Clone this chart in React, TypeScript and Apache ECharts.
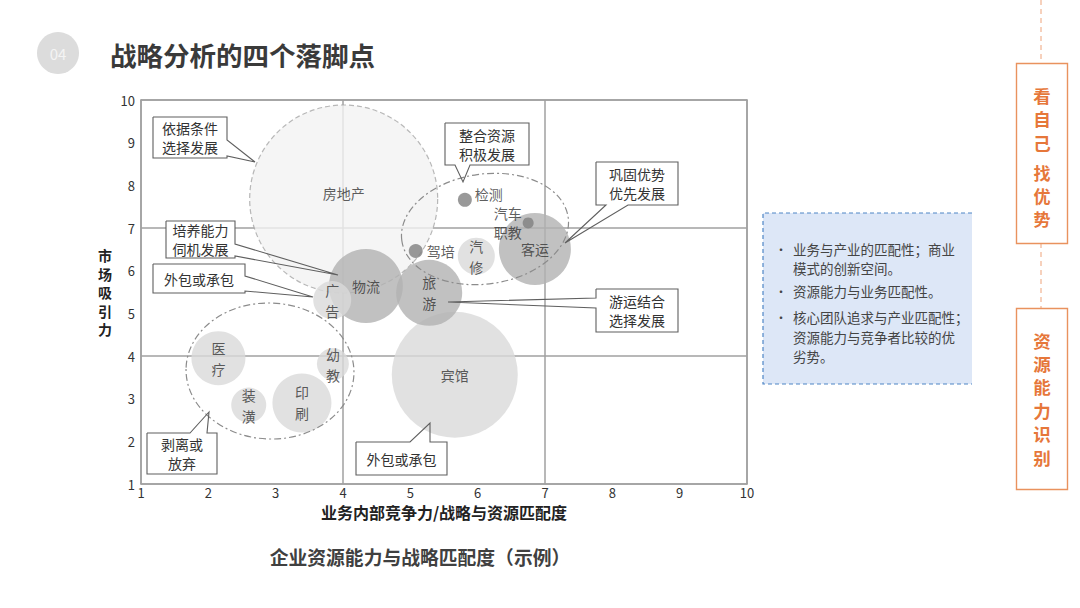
import React, { useEffect, useRef } from 'react';
import * as echarts from 'echarts';

const TITLE = '战略分析的四个落脚点';
const SUBTITLE = '企业资源能力与战略匹配度（示例）';
const X_NAME = '业务内部竞争力/战略与资源匹配度';
const Y_NAME = '市场吸引力';

const bubbleNames = ['房地产', '宾馆', '物流', '旅游', '广告', '客运', '汽修', '医疗', '装潢', '印刷', '幼教', '检测', '驾培', '汽车职教'];
const bubbleLabels = ['房地产', '宾馆', '物流', '旅\n游', '广\n告', '客运', '汽\n修', '医\n疗', '装\n潢', '印\n刷', '幼\n教', '检测', '驾培', '汽车\n职教'];
const competitiveness = [4.01, 5.66, 4.34, 5.28, 3.84, 6.85, 5.98, 2.15, 2.6, 3.39, 3.85, 5.81, 5.08, 6.75];
const attractiveness = [7.68, 3.56, 5.64, 5.48, 5.31, 6.51, 6.34, 3.95, 2.85, 2.9, 3.81, 7.66, 6.46, 7.12];
const bubbleScale = [94, 63, 37, 33, 19, 36, 18.5, 27, 17.5, 29.5, 16, 7, 7, 5.5];
const bubbleTier = ['outer', 'light', 'dark', 'dark', 'light', 'dark', 'light', 'light', 'light', 'light', 'light', 'dot', 'dot', 'dot'];

const calloutTexts = ['依据条件\n选择发展', '培养能力\n伺机发展', '外包或承包', '整合资源\n积极发展', '巩固优势\n优先发展', '游运结合\n选择发展', '外包或承包', '剥离或\n放弃'];
const infoLines = ['业务与产业的匹配性；商业', '模式的创新空间。', '资源能力与业务匹配性。', '核心团队追求与产业匹配性；', '资源能力与竞争者比较的优', '劣势。'];
const sideTitleA1 = '看\n自\n己';
const sideTitleA2 = '找\n优\n势';
const sideTitleB = '资\n源\n能\n力\n识\n别';

const FONT = '"Noto Sans CJK SC", "Noto Sans", sans-serif';

const tierStyle: Record<string, any> = {
  outer: { color: '#f2f2f2', borderColor: '#a6a6a6', borderType: [5, 3], borderWidth: 1.2 },
  dark: { color: '#b1b1b1' },
  light: { color: '#d9d9d9' },
  dot: { color: '#7f7f7f' },
};

const calloutGeom = [
  { r: [153, 117, 227, 158], side: 'right', a: 140, b: 156, tip: [255, 162] },
  { r: [166, 221, 235, 258], side: 'right', a: 244, b: 256, tip: [338, 275] },
  { r: [153, 264, 245, 293], side: 'right', a: 276, b: 291, tip: [313, 297] },
  { r: [445, 123, 529, 165], side: 'bottom', a: 455, b: 470, tip: [463, 182] },
  { r: [596, 162, 678, 205], side: 'bottom', a: 606, b: 628, tip: [565, 243] },
  { r: [596, 289, 678, 332], side: 'left', a: 298, b: 308, tip: [448, 302] },
  { r: [356, 442, 447, 475], side: 'top', a: 410, b: 430, tip: [430, 423] },
  { r: [147, 433, 217, 474], side: 'top', a: 190, b: 207, tip: [209, 412] },
];

function calloutPoints(g: any) {
  const [x1, y1, x2, y2] = g.r;
  const { a, b, tip } = g;
  if (g.side === 'right') return [[x1, y1], [x2, y1], [x2, a], tip, [x2, b], [x2, y2], [x1, y2], [x1, y1]];
  if (g.side === 'left') return [[x1, y1], [x2, y1], [x2, y2], [x1, y2], [x1, b], tip, [x1, a], [x1, y1]];
  if (g.side === 'bottom') return [[x1, y1], [x2, y1], [x2, y2], [b, y2], tip, [a, y2], [x1, y2], [x1, y1]];
  return [[x1, y1], [a, y1], tip, [b, y1], [x2, y1], [x2, y2], [x1, y2], [x1, y1]];
}

function buildGraphic() {
  const els: any[] = [];
  // header
  els.push({ type: 'circle', shape: { cx: 58, cy: 53, r: 21 }, style: { fill: '#dcdcdc' }, z: 10 });
  els.push({ type: 'text', x: 58, y: 53, style: { text: '04', fill: '#f4f4f4', font: `15px ${FONT}`, align: 'center', verticalAlign: 'middle' }, z: 11 });
  els.push({ type: 'text', x: 110, y: 54, style: { text: TITLE, fill: '#3a3a3a', font: `bold 26.5px ${FONT}`, align: 'left', verticalAlign: 'middle' }, z: 11 });
  els.push({ type: 'text', x: 420, y: 556, style: { text: SUBTITLE, fill: '#404040', font: `bold 18.8px ${FONT}`, align: 'center', verticalAlign: 'middle' }, z: 11 });

  // group ellipses
  els.push({ type: 'ellipse', x: 270, y: 371, rotation: -0.04, shape: { cx: 0, cy: 0, rx: 84, ry: 68 }, style: { fill: 'none', stroke: '#8c8c8c', lineWidth: 1.2, lineDash: [7, 3, 2, 3] }, z: 50 });
  els.push({ type: 'ellipse', x: 485, y: 229, rotation: 0.14, shape: { cx: 0, cy: 0, rx: 84, ry: 55 }, style: { fill: 'none', stroke: '#8c8c8c', lineWidth: 1.2, lineDash: [7, 3, 2, 3] }, z: 50 });

  // callouts
  calloutGeom.forEach((g, i) => {
    const [x1, y1, x2, y2] = g.r;
    els.push({ type: 'rect', shape: { x: x1, y: y1, width: x2 - x1, height: y2 - y1 }, style: { fill: '#ffffff' }, z: 60 });
    els.push({ type: 'polyline', shape: { points: calloutPoints(g) }, style: { fill: 'none', stroke: '#5f5f5f', lineWidth: 1.1 }, z: 61 });
    els.push({ type: 'text', x: (x1 + x2) / 2, y: (y1 + y2) / 2, style: { text: calloutTexts[i], fill: '#333333', font: `14px ${FONT}`, lineHeight: 19, align: 'center', verticalAlign: 'middle' }, z: 62 });
  });

  // info box
  els.push({ type: 'rect', shape: { x: 763, y: 213, width: 209, height: 171 }, style: { fill: '#dde7f7' }, z: 10 });
  els.push({ type: 'polyline', shape: { points: [[972, 213], [763, 213], [763, 384], [972, 384]] }, style: { fill: 'none', stroke: '#4f86c6', lineWidth: 1.2, lineDash: [4, 3] }, z: 11 });
  const infoY = [249, 268, 291, 317, 337, 356];
  const bulletRows = [0, 2, 3];
  infoLines.forEach((t, i) => {
    els.push({ type: 'text', x: 793, y: infoY[i], style: { text: t, fill: '#444444', font: `13.5px ${FONT}`, lineHeight: 18, align: 'left', verticalAlign: 'middle' }, z: 12 });
  });
  bulletRows.forEach((r) => {
    els.push({ type: 'text', x: 781, y: infoY[r], style: { text: '•', fill: '#444444', font: `12px ${FONT}`, lineHeight: 14, align: 'center', verticalAlign: 'middle' }, z: 12 });
  });

  // right orange side
  const orange = '#e6773a';
  els.push({ type: 'line', shape: { x1: 1041, y1: 0, x2: 1041, y2: 63 }, style: { stroke: '#eea37a', lineWidth: 1, lineDash: [5, 4] }, z: 10 });
  els.push({ type: 'line', shape: { x1: 1041, y1: 243, x2: 1041, y2: 308 }, style: { stroke: '#eea37a', lineWidth: 1, lineDash: [5, 4] }, z: 10 });
  els.push({ type: 'rect', shape: { x: 1016.5, y: 63.5, width: 51, height: 180 }, style: { fill: '#ffffff', stroke: '#e9925e', lineWidth: 1.4 }, z: 11 });
  els.push({ type: 'rect', shape: { x: 1016.5, y: 308.5, width: 51, height: 181 }, style: { fill: '#ffffff', stroke: '#e9925e', lineWidth: 1.4 }, z: 11 });
  els.push({ type: 'text', x: 1042, y: 118.5, style: { text: sideTitleA1, fill: orange, font: `bold 17.5px ${FONT}`, lineHeight: 23.5, align: 'center', verticalAlign: 'middle' }, z: 12 });
  els.push({ type: 'text', x: 1042, y: 195.5, style: { text: sideTitleA2, fill: orange, font: `bold 17px ${FONT}`, lineHeight: 23, align: 'center', verticalAlign: 'middle' }, z: 12 });
  els.push({ type: 'text', x: 1042, y: 398.5, style: { text: sideTitleB, fill: orange, font: `bold 17.5px ${FONT}`, lineHeight: 23.4, align: 'center', verticalAlign: 'middle' }, z: 12 });
  return els;
}

function buildBubbles() {
  return bubbleNames.map((name, i) => {
    const tier = bubbleTier[i];
    let label: any = { show: true, formatter: bubbleLabels[i], position: 'inside', color: '#333333', fontSize: 14, lineHeight: 21, fontFamily: FONT };
    if (name === '房地产') label = { ...label, offset: [0, -6] };
    if (name === '检测') label = { ...label, position: 'right', distance: 3, offset: [0, -6] };
    if (name === '驾培') label = { ...label, position: 'right', distance: 4 };
    if (name === '汽车职教') label = { ...label, position: 'left', distance: 1, lineHeight: 19 };
    return {
      name,
      value: [competitiveness[i], attractiveness[i]],
      symbolSize: bubbleScale[i] * 2,
      itemStyle: tierStyle[tier],
      label,
    };
  });
}

export default function App() {
  const ref = useRef<HTMLDivElement>(null);
  useEffect(() => {
    const chart = echarts.init(ref.current!, null, { renderer: 'svg' });
    const axisLineStyle = { color: '#a0a0a0', width: 1.5 };
    chart.setOption({
      animation: false,
      backgroundColor: '#ffffff',
      textStyle: { fontFamily: FONT },
      grid: { left: 141, top: 100, right: 333, bottom: 124, containLabel: false },
      xAxis: [
        {
          type: 'value', min: 1, max: 10, interval: 1, position: 'bottom',
          name: X_NAME, nameLocation: 'middle', nameGap: 19,
          nameTextStyle: { fontSize: 16, fontWeight: 'bold', color: '#222222', fontFamily: FONT },
          axisLine: { show: true, lineStyle: axisLineStyle }, axisTick: { show: false },
          axisLabel: { color: '#333333', fontSize: 13, margin: 2, fontFamily: FONT },
          splitLine: { show: false },
        },
        {
          type: 'value', min: 1, max: 10, interval: 3, position: 'top',
          axisLine: { show: true, lineStyle: axisLineStyle }, axisTick: { show: false },
          axisLabel: { show: false },
          splitLine: { show: true, lineStyle: axisLineStyle },
        },
      ],
      yAxis: [
        {
          type: 'value', min: 1, max: 10, interval: 1, position: 'left',
          name: Y_NAME.split('').join('\n'), nameLocation: 'middle', nameGap: 36, nameRotate: 0,
          nameTextStyle: { fontSize: 14, fontWeight: 'bold', color: '#222222', lineHeight: 18.5, align: 'center', verticalAlign: 'middle', padding: [0, 0, 42, 0], fontFamily: FONT },
          axisLine: { show: true, lineStyle: axisLineStyle }, axisTick: { show: false },
          axisLabel: { color: '#333333', fontSize: 13, margin: 6, fontFamily: FONT },
          splitLine: { show: false },
        },
        {
          type: 'value', min: 1, max: 10, interval: 3, position: 'right',
          axisLine: { show: true, lineStyle: axisLineStyle }, axisTick: { show: false },
          axisLabel: { show: false },
          splitLine: { show: true, lineStyle: axisLineStyle },
        },
      ],
      series: [
        {
          type: 'scatter',
          xAxisIndex: 0,
          yAxisIndex: 0,
          z: 3,
          data: buildBubbles(),
        },
      ],
      graphic: buildGraphic(),
    });
    return () => chart.dispose();
  }, []);
  return <div ref={ref} style={{ position: 'absolute', left: 0, top: 0, width: 1080, height: 608, background: '#fff' }} />;
}
